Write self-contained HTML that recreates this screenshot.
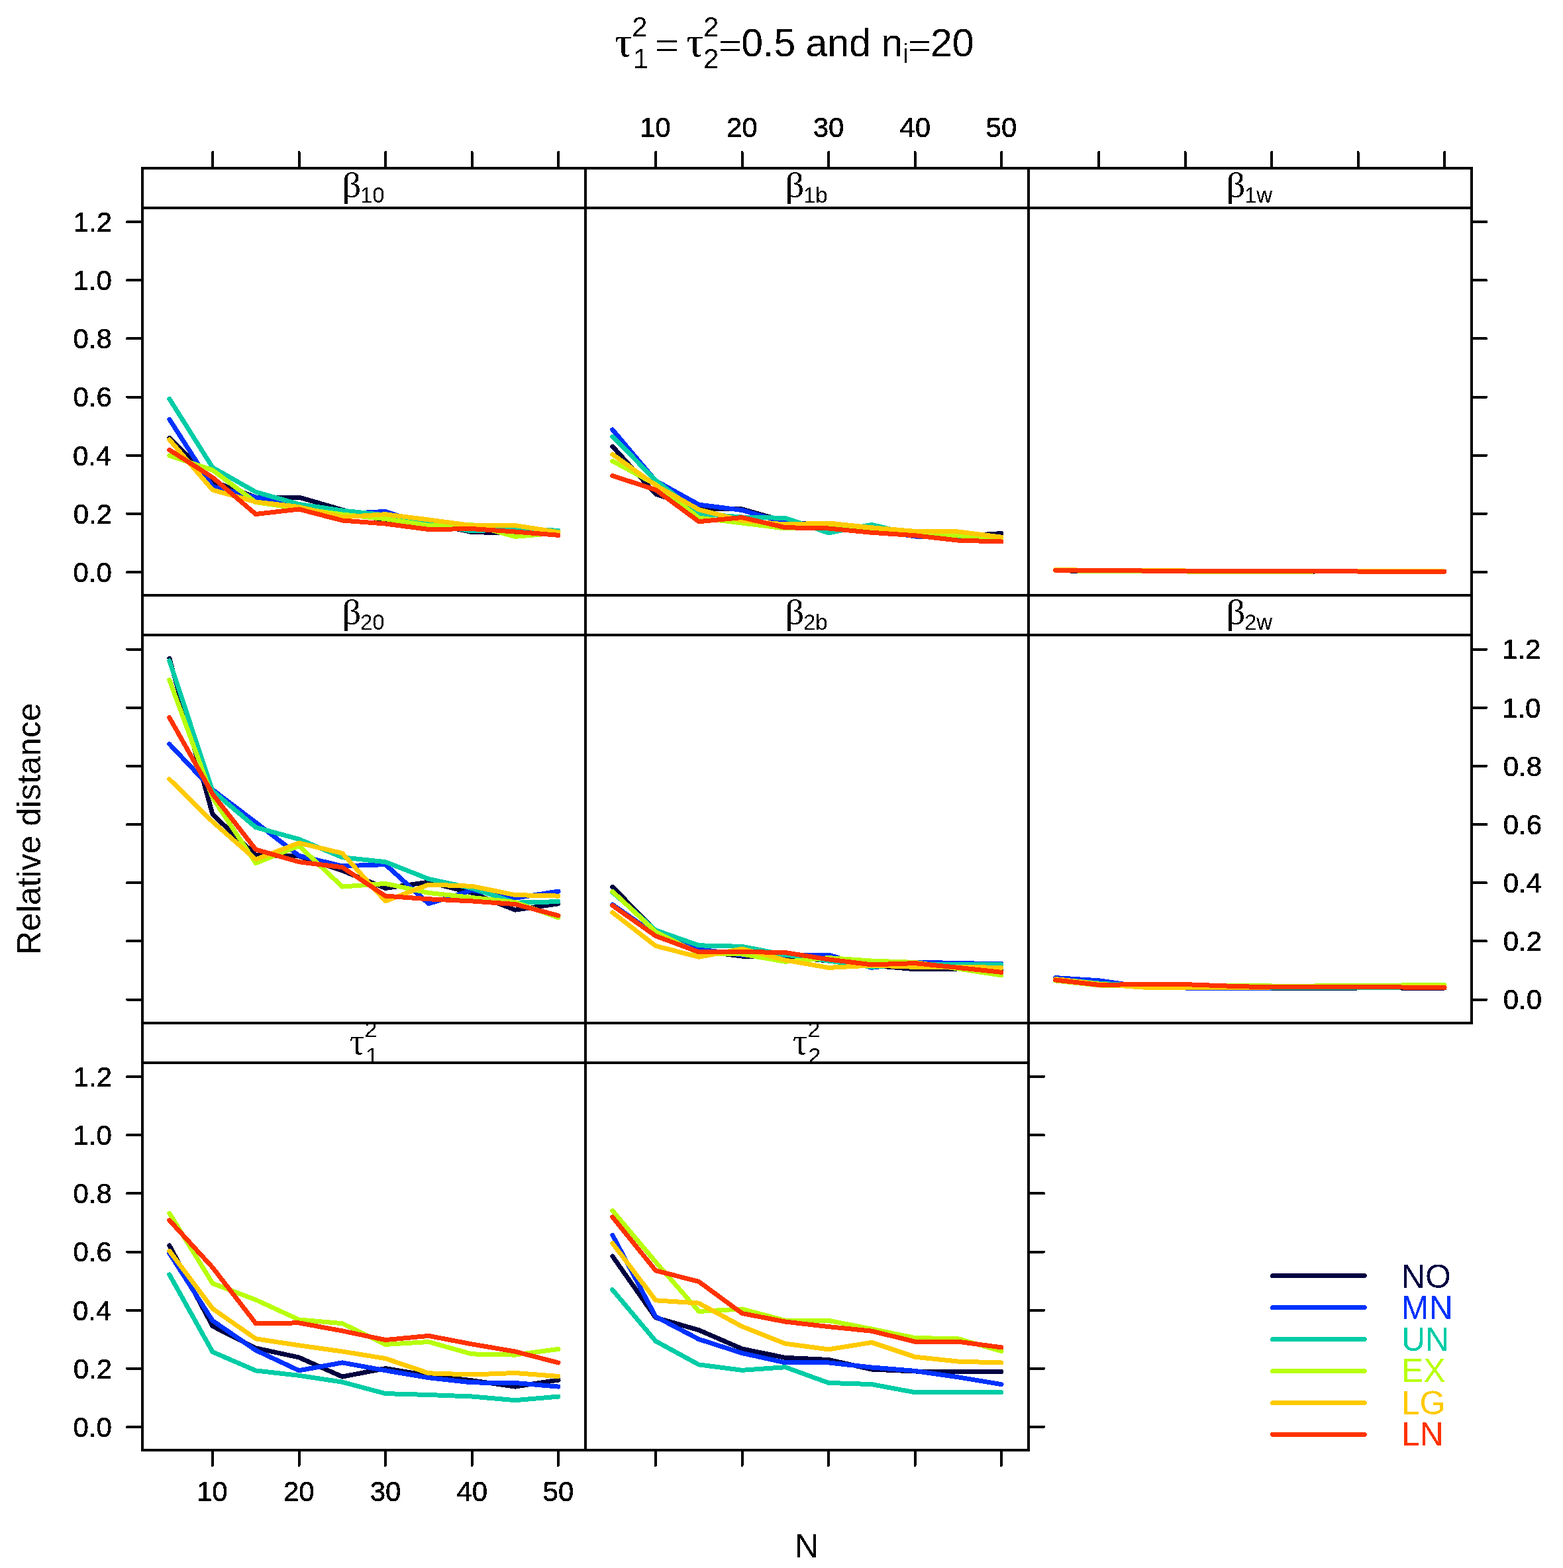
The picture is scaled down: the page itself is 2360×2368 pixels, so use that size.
<!DOCTYPE html><html><head><meta charset="utf-8"><title>Relative distance plot</title><style>html,body{margin:0;padding:0;background:#fff;overflow:hidden;}svg{display:block;}</style></head><body>
<svg width="2360" height="2368" viewBox="0 0 2360 2368">
<rect x="0" y="0" width="2360" height="2368" fill="#ffffff"/>
<defs>
<filter id="bin" x="0" y="0" width="2360" height="2368" filterUnits="userSpaceOnUse"><feComponentTransfer><feFuncA type="discrete" tableValues="0 1"/></feComponentTransfer></filter>
<clipPath id="cp_b10"><rect x="215" y="314" width="669" height="585"/></clipPath>
<clipPath id="cs_b10"><rect x="215" y="254" width="669" height="62"/></clipPath>
<clipPath id="cp_b1b"><rect x="884" y="314" width="669" height="585"/></clipPath>
<clipPath id="cs_b1b"><rect x="884" y="254" width="669" height="62"/></clipPath>
<clipPath id="cp_b1w"><rect x="1553" y="314" width="668.5" height="585"/></clipPath>
<clipPath id="cs_b1w"><rect x="1553" y="254" width="668.5" height="62"/></clipPath>
<clipPath id="cp_b20"><rect x="215" y="959" width="669" height="586"/></clipPath>
<clipPath id="cs_b20"><rect x="215" y="899" width="669" height="62"/></clipPath>
<clipPath id="cp_b2b"><rect x="884" y="959" width="669" height="586"/></clipPath>
<clipPath id="cs_b2b"><rect x="884" y="899" width="669" height="62"/></clipPath>
<clipPath id="cp_b2w"><rect x="1553" y="959" width="668.5" height="586"/></clipPath>
<clipPath id="cs_b2w"><rect x="1553" y="899" width="668.5" height="62"/></clipPath>
<clipPath id="cp_t1"><rect x="215" y="1605" width="669" height="585"/></clipPath>
<clipPath id="cs_t1"><rect x="215" y="1545" width="669" height="62"/></clipPath>
<clipPath id="cp_t2"><rect x="884" y="1605" width="669" height="585"/></clipPath>
<clipPath id="cs_t2"><rect x="884" y="1545" width="669" height="62"/></clipPath>
</defs>
<g filter="url(#bin)">
<g clip-path="url(#cp_b10)" fill="none" stroke-width="7" stroke-linecap="round" stroke-linejoin="round" shape-rendering="crispEdges">
<polyline points="255.8,661.5 321.0,727.0 386.2,751.0 451.5,751.0 516.8,770.0 582.0,786.0 647.2,790.0 712.5,803.6 777.8,805.0 843.0,805.0" stroke="#020040"/>
<polyline points="255.8,633.2 321.0,735.0 386.2,751.0 451.5,764.0 516.8,776.0 582.0,772.4 647.2,795.0 712.5,800.0 777.8,800.0 843.0,803.0" stroke="#0033FF"/>
<polyline points="255.8,602.4 321.0,706.0 386.2,743.0 451.5,761.5 516.8,771.0 582.0,778.0 647.2,791.0 712.5,802.0 777.8,798.6 843.0,801.3" stroke="#00CCA6"/>
<polyline points="255.8,688.0 321.0,710.0 386.2,758.5 451.5,768.0 516.8,777.0 582.0,783.6 647.2,793.6 712.5,792.4 777.8,810.4 843.0,804.8" stroke="#B8FF10"/>
<polyline points="255.8,664.0 321.0,740.0 386.2,758.0 451.5,765.5 516.8,781.0 582.0,776.7 647.2,785.0 712.5,793.6 777.8,793.6 843.0,803.6" stroke="#FFCA00"/>
<polyline points="255.8,679.4 321.0,721.0 386.2,776.5 451.5,769.0 516.8,786.0 582.0,791.0 647.2,799.5 712.5,798.6 777.8,803.0 843.0,808.3" stroke="#FF3300"/>
</g>
<g clip-path="url(#cp_b1b)" fill="none" stroke-width="7" stroke-linecap="round" stroke-linejoin="round" shape-rendering="crispEdges">
<polyline points="924.8,674.2 990.0,746.0 1055.2,768.4 1120.5,769.0 1185.8,787.4 1251.0,795.0 1316.2,800.0 1381.5,808.0 1446.8,810.0 1512.0,805.5" stroke="#020040"/>
<polyline points="924.8,648.9 990.0,726.0 1055.2,762.1 1120.5,770.5 1185.8,789.5 1251.0,793.0 1316.2,800.0 1381.5,810.0 1446.8,811.8 1512.0,812.0" stroke="#0033FF"/>
<polyline points="924.8,659.3 990.0,725.4 1055.2,775.9 1120.5,781.0 1185.8,782.4 1251.0,804.8 1316.2,792.4 1381.5,808.0 1446.8,810.0 1512.0,812.4" stroke="#00CCA6"/>
<polyline points="924.8,696.3 990.0,731.6 1055.2,782.1 1120.5,790.0 1185.8,798.0 1251.0,793.6 1316.2,800.0 1381.5,806.0 1446.8,808.7 1512.0,813.6" stroke="#B8FF10"/>
<polyline points="924.8,686.1 990.0,732.8 1055.2,769.6 1120.5,786.0 1185.8,792.0 1251.0,790.0 1316.2,796.8 1381.5,802.4 1446.8,803.0 1512.0,811.1" stroke="#FFCA00"/>
<polyline points="924.8,718.5 990.0,739.7 1055.2,787.7 1120.5,781.5 1185.8,796.7 1251.0,798.0 1316.2,804.3 1381.5,808.7 1446.8,816.1 1512.0,818.0" stroke="#FF3300"/>
</g>
<g clip-path="url(#cp_b1w)" fill="none" stroke-width="7" stroke-linecap="round" stroke-linejoin="round" shape-rendering="crispEdges">
<polyline points="1593.8,861.5 1659.0,863.0 1724.2,862.5 1789.5,862.5 1854.8,863.0 1920.0,863.0 1985.2,863.0 2050.5,862.5 2115.8,862.5 2181.0,863.0" stroke="#020040"/>
<polyline points="1593.8,861.5 1659.0,862.0 1724.2,862.0 1789.5,862.5 1854.8,862.5 1920.0,862.5 1985.2,862.5 2050.5,862.5 2115.8,862.5 2181.0,863.0" stroke="#0033FF"/>
<polyline points="1593.8,861.5 1659.0,861.5 1724.2,861.0 1789.5,862.0 1854.8,862.5 1920.0,862.5 1985.2,862.5 2050.5,862.5 2115.8,862.5 2181.0,863.0" stroke="#00CCA6"/>
<polyline points="1593.8,861.5 1659.0,862.5 1724.2,862.5 1789.5,863.0 1854.8,863.5 1920.0,863.5 1985.2,863.0 2050.5,862.5 2115.8,862.5 2181.0,863.0" stroke="#B8FF10"/>
<polyline points="1593.8,860.5 1659.0,861.5 1724.2,861.0 1789.5,862.0 1854.8,862.0 1920.0,862.0 1985.2,862.0 2050.5,862.0 2115.8,862.5 2181.0,863.0" stroke="#FFCA00"/>
<polyline points="1593.8,861.2 1659.0,861.8 1724.2,862.0 1789.5,862.2 1854.8,862.4 1920.0,862.6 1985.2,862.8 2050.5,863.0 2115.8,863.0 2181.0,863.2" stroke="#FF3300"/>
</g>
<g clip-path="url(#cp_b20)" fill="none" stroke-width="7" stroke-linecap="round" stroke-linejoin="round" shape-rendering="crispEdges">
<polyline points="255.8,994.2 321.0,1229.9 386.2,1291.4 451.5,1293.0 516.8,1314.8 582.0,1341.4 647.2,1332.1 712.5,1348.4 777.8,1374.2 843.0,1364.8" stroke="#020040"/>
<polyline points="255.8,1123.7 321.0,1192.7 386.2,1242.0 451.5,1292.3 516.8,1307.9 582.0,1305.6 647.2,1364.8 712.5,1344.5 777.8,1356.2 843.0,1346.1" stroke="#0033FF"/>
<polyline points="255.8,997.9 321.0,1194.5 386.2,1249.5 451.5,1267.4 516.8,1294.8 582.0,1301.7 647.2,1327.4 712.5,1341.4 777.8,1363.2 843.0,1361.7" stroke="#00CCA6"/>
<polyline points="255.8,1026.8 321.0,1204.8 386.2,1303.5 451.5,1277.4 516.8,1339.1 582.0,1334.4 647.2,1348.4 712.5,1355.5 777.8,1362.5 843.0,1385.8" stroke="#B8FF10"/>
<polyline points="255.8,1176.8 321.0,1241.0 386.2,1298.0 451.5,1273.0 516.8,1288.6 582.0,1360.9 647.2,1336.0 712.5,1338.3 777.8,1351.6 843.0,1353.1" stroke="#FFCA00"/>
<polyline points="255.8,1083.7 321.0,1199.2 386.2,1283.0 451.5,1301.7 516.8,1309.8 582.0,1353.1 647.2,1357.8 712.5,1360.9 777.8,1365.6 843.0,1382.7" stroke="#FF3300"/>
</g>
<g clip-path="url(#cp_b2b)" fill="none" stroke-width="7" stroke-linecap="round" stroke-linejoin="round" shape-rendering="crispEdges">
<polyline points="924.8,1339.3 990.0,1406.0 1055.2,1436.0 1120.5,1444.0 1185.8,1444.3 1251.0,1451.1 1316.2,1458.0 1381.5,1463.7 1446.8,1463.0 1512.0,1464.9" stroke="#020040"/>
<polyline points="924.8,1366.1 990.0,1411.6 1055.2,1433.5 1120.5,1442.2 1185.8,1442.0 1251.0,1442.0 1316.2,1461.4 1381.5,1453.0 1446.8,1454.6 1512.0,1455.7" stroke="#0033FF"/>
<polyline points="924.8,1347.4 990.0,1404.8 1055.2,1427.8 1120.5,1429.4 1185.8,1442.0 1251.0,1451.0 1316.2,1460.3 1381.5,1456.0 1446.8,1456.9 1512.0,1456.9" stroke="#00CCA6"/>
<polyline points="924.8,1346.2 990.0,1407.3 1055.2,1439.7 1120.5,1441.0 1185.8,1452.3 1251.0,1446.6 1316.2,1451.1 1381.5,1453.4 1446.8,1463.0 1512.0,1472.9" stroke="#B8FF10"/>
<polyline points="924.8,1378.0 990.0,1428.5 1055.2,1445.3 1120.5,1432.9 1185.8,1450.0 1251.0,1461.4 1316.2,1458.0 1381.5,1460.3 1446.8,1460.3 1512.0,1461.4" stroke="#FFCA00"/>
<polyline points="924.8,1367.4 990.0,1413.5 1055.2,1437.8 1120.5,1437.4 1185.8,1438.6 1251.0,1448.9 1316.2,1456.9 1381.5,1454.6 1446.8,1461.4 1512.0,1468.3" stroke="#FF3300"/>
</g>
<g clip-path="url(#cp_b2w)" fill="none" stroke-width="7" stroke-linecap="round" stroke-linejoin="round" shape-rendering="crispEdges">
<polyline points="1593.8,1479.0 1659.0,1484.0 1724.2,1490.0 1789.5,1491.0 1854.8,1492.0 1920.0,1492.5 1985.2,1492.5 2050.5,1492.0 2115.8,1492.0 2181.0,1492.0" stroke="#020040"/>
<polyline points="1593.8,1476.6 1659.0,1480.8 1724.2,1490.0 1789.5,1492.0 1854.8,1492.0 1920.0,1492.0 1985.2,1491.0 2050.5,1489.0 2115.8,1488.0 2181.0,1490.0" stroke="#0033FF"/>
<polyline points="1593.8,1479.0 1659.0,1485.0 1724.2,1489.0 1789.5,1490.0 1854.8,1491.0 1920.0,1492.0 1985.2,1492.0 2050.5,1491.5 2115.8,1491.0 2181.0,1491.0" stroke="#00CCA6"/>
<polyline points="1593.8,1481.0 1659.0,1488.0 1724.2,1489.0 1789.5,1489.0 1854.8,1488.0 1920.0,1489.0 1985.2,1489.0 2050.5,1488.0 2115.8,1488.0 2181.0,1487.5" stroke="#B8FF10"/>
<polyline points="1593.8,1478.5 1659.0,1486.0 1724.2,1491.0 1789.5,1491.6 1854.8,1491.6 1920.0,1491.0 1985.2,1491.0 2050.5,1490.5 2115.8,1490.5 2181.0,1490.5" stroke="#FFCA00"/>
<polyline points="1593.8,1480.0 1659.0,1487.4 1724.2,1486.6 1789.5,1486.6 1854.8,1489.1 1920.0,1491.0 1985.2,1490.5 2050.5,1490.5 2115.8,1491.0 2181.0,1491.5" stroke="#FF3300"/>
</g>
<g clip-path="url(#cp_t1)" fill="none" stroke-width="7" stroke-linecap="round" stroke-linejoin="round" shape-rendering="crispEdges">
<polyline points="255.8,1881.0 321.0,2002.8 386.2,2035.9 451.5,2050.0 516.8,2079.1 582.0,2066.6 647.2,2077.5 712.5,2084.8 777.8,2094.1 843.0,2084.1" stroke="#020040"/>
<polyline points="255.8,1892.6 321.0,1994.5 386.2,2039.2 451.5,2069.8 516.8,2057.9 582.0,2069.7 647.2,2080.7 712.5,2087.9 777.8,2088.5 843.0,2094.1" stroke="#0033FF"/>
<polyline points="255.8,1924.9 321.0,2041.7 386.2,2069.9 451.5,2077.3 516.8,2087.2 582.0,2104.6 647.2,2106.5 712.5,2109.0 777.8,2114.7 843.0,2109.1" stroke="#00CCA6"/>
<polyline points="255.8,1832.2 321.0,1938.2 386.2,1963.0 451.5,1993.0 516.8,1998.7 582.0,2030.4 647.2,2026.5 712.5,2044.9 777.8,2046.1 843.0,2037.4" stroke="#B8FF10"/>
<polyline points="255.8,1889.3 321.0,1976.3 386.2,2021.8 451.5,2031.8 516.8,2041.0 582.0,2051.6 647.2,2073.8 712.5,2076.0 777.8,2073.5 843.0,2078.5" stroke="#FFCA00"/>
<polyline points="255.8,1842.9 321.0,1914.2 386.2,1998.6 451.5,1997.9 516.8,2009.9 582.0,2023.6 647.2,2017.4 712.5,2029.9 777.8,2041.1 843.0,2058.0" stroke="#FF3300"/>
</g>
<g clip-path="url(#cp_t2)" fill="none" stroke-width="7" stroke-linecap="round" stroke-linejoin="round" shape-rendering="crispEdges">
<polyline points="924.8,1897.1 990.0,1989.9 1055.2,2008.7 1120.5,2037.0 1185.8,2050.4 1251.0,2053.5 1316.2,2068.0 1381.5,2071.0 1446.8,2071.7 1512.0,2071.7" stroke="#020040"/>
<polyline points="924.8,1865.2 990.0,1988.4 1055.2,2022.5 1120.5,2043.5 1185.8,2057.9 1251.0,2057.9 1316.2,2065.0 1381.5,2070.4 1446.8,2079.8 1512.0,2090.7" stroke="#0033FF"/>
<polyline points="924.8,1947.8 990.0,2025.4 1055.2,2060.9 1120.5,2069.3 1185.8,2064.7 1251.0,2088.4 1316.2,2090.6 1381.5,2102.8 1446.8,2102.8 1512.0,2102.8" stroke="#00CCA6"/>
<polyline points="924.8,1828.3 990.0,1905.8 1055.2,1980.4 1120.5,1977.0 1185.8,1994.3 1251.0,1994.3 1316.2,2007.0 1381.5,2020.5 1446.8,2021.8 1512.0,2040.5" stroke="#B8FF10"/>
<polyline points="924.8,1877.5 990.0,1963.8 1055.2,1968.1 1120.5,2003.3 1185.8,2029.2 1251.0,2037.9 1316.2,2027.4 1381.5,2049.2 1446.8,2056.1 1512.0,2058.0" stroke="#FFCA00"/>
<polyline points="924.8,1838.0 990.0,1918.8 1055.2,1935.5 1120.5,1983.5 1185.8,1996.1 1251.0,2003.6 1316.2,2010.2 1381.5,2026.2 1446.8,2026.2 1512.0,2034.9" stroke="#FF3300"/>
</g>
<g fill="none" stroke="#000" stroke-width="4" shape-rendering="crispEdges">
<rect x="215" y="254" width="669" height="645"/>
<line x1="215" y1="314" x2="884" y2="314"/>
<rect x="884" y="254" width="669" height="645"/>
<line x1="884" y1="314" x2="1553" y2="314"/>
<rect x="1553" y="254" width="668.5" height="645"/>
<line x1="1553" y1="314" x2="2221.5" y2="314"/>
<rect x="215" y="899" width="669" height="646"/>
<line x1="215" y1="959" x2="884" y2="959"/>
<rect x="884" y="899" width="669" height="646"/>
<line x1="884" y1="959" x2="1553" y2="959"/>
<rect x="1553" y="899" width="668.5" height="646"/>
<line x1="1553" y1="959" x2="2221.5" y2="959"/>
<rect x="215" y="1545" width="669" height="645"/>
<line x1="215" y1="1605" x2="884" y2="1605"/>
<rect x="884" y="1545" width="669" height="645"/>
<line x1="884" y1="1605" x2="1553" y2="1605"/>
</g>
<path d="M192.0,864.0H215.0M192.0,775.8H215.0M192.0,687.7H215.0M192.0,599.5H215.0M192.0,511.3H215.0M192.0,423.2H215.0M192.0,335.0H215.0M192.0,1509.5H215.0M192.0,1421.3H215.0M192.0,1333.2H215.0M192.0,1245.0H215.0M192.0,1156.8H215.0M192.0,1068.7H215.0M192.0,980.5H215.0M192.0,2155.0H215.0M192.0,2066.8H215.0M192.0,1978.7H215.0M192.0,1890.5H215.0M192.0,1802.3H215.0M192.0,1714.2H215.0M192.0,1626.0H215.0M2223.0,864.0H2244.5M2223.0,775.8H2244.5M2223.0,687.7H2244.5M2223.0,599.5H2244.5M2223.0,511.3H2244.5M2223.0,423.2H2244.5M2223.0,335.0H2244.5M2223.0,1509.5H2244.5M2223.0,1421.3H2244.5M2223.0,1333.2H2244.5M2223.0,1245.0H2244.5M2223.0,1156.8H2244.5M2223.0,1068.7H2244.5M2223.0,980.5H2244.5M1554.5,2155.0H1576.0M1554.5,2066.8H1576.0M1554.5,1978.7H1576.0M1554.5,1890.5H1576.0M1554.5,1802.3H1576.0M1554.5,1714.2H1576.0M1554.5,1626.0H1576.0M321.0,254.0V230.0M451.5,254.0V230.0M582.0,254.0V230.0M712.5,254.0V230.0M843.0,254.0V230.0M990.0,254.0V230.0M1120.5,254.0V230.0M1251.0,254.0V230.0M1381.5,254.0V230.0M1512.0,254.0V230.0M1659.0,254.0V230.0M1789.5,254.0V230.0M1920.0,254.0V230.0M2050.5,254.0V230.0M2181.0,254.0V230.0M321.0,2190.0V2213.0M451.5,2190.0V2213.0M582.0,2190.0V2213.0M712.5,2190.0V2213.0M843.0,2190.0V2213.0M990.0,2190.0V2213.0M1120.5,2190.0V2213.0M1251.0,2190.0V2213.0M1381.5,2190.0V2213.0M1512.0,2190.0V2213.0" fill="none" stroke="#000" stroke-width="4" stroke-linecap="round" shape-rendering="crispEdges"/>
<g font-family="'Liberation Sans', Arial, Helvetica, sans-serif" font-size="42" fill="#000" stroke="#000" stroke-width="0.6">
<text x="110.4" y="878.8">0.0</text>
<text x="110.8" y="790.6">0.2</text>
<text x="109.9" y="702.5">0.4</text>
<text x="110.6" y="614.3">0.6</text>
<text x="110.5" y="526.1">0.8</text>
<text x="110.4" y="438.0">1.0</text>
<text x="110.8" y="349.8">1.2</text>
<text x="110.4" y="2169.8">0.0</text>
<text x="110.8" y="2081.6">0.2</text>
<text x="109.9" y="1993.5">0.4</text>
<text x="110.6" y="1905.3">0.6</text>
<text x="110.5" y="1817.1">0.8</text>
<text x="110.4" y="1729.0">1.0</text>
<text x="110.8" y="1640.8">1.2</text>
<text x="2269.7" y="1524.3">0.0</text>
<text x="2269.7" y="1436.1">0.2</text>
<text x="2269.7" y="1348.0">0.4</text>
<text x="2269.7" y="1259.8">0.6</text>
<text x="2269.7" y="1171.6">0.8</text>
<text x="2268.1" y="1083.5">1.0</text>
<text x="2268.1" y="995.3">1.2</text>
<text x="965.9" y="206.8">10</text>
<text x="296.9" y="2266.8">10</text>
<text x="1096.9" y="206.8">20</text>
<text x="427.9" y="2266.8">20</text>
<text x="1227.7" y="206.8">30</text>
<text x="558.7" y="2266.8">30</text>
<text x="1358.5" y="206.8">40</text>
<text x="689.5" y="2266.8">40</text>
<text x="1488.6" y="206.8">50</text>
<text x="819.6" y="2266.8">50</text>
</g>
<g clip-path="url(#cs_b10)" fill="#000"><text transform="translate(516.3,297.0) scale(1.1,1)" font-family="'Liberation Serif', 'DejaVu Serif', serif" font-size="52">β</text><text x="544.0" y="306.3" font-family="'Liberation Sans', Arial, Helvetica, sans-serif" font-size="33">10</text></g>
<g clip-path="url(#cs_b1b)" fill="#000"><text transform="translate(1185.3,297.0) scale(1.1,1)" font-family="'Liberation Serif', 'DejaVu Serif', serif" font-size="52">β</text><text x="1213.0" y="306.3" font-family="'Liberation Sans', Arial, Helvetica, sans-serif" font-size="33">1b</text></g>
<g clip-path="url(#cs_b1w)" fill="#000"><text transform="translate(1851.3,297.0) scale(1.1,1)" font-family="'Liberation Serif', 'DejaVu Serif', serif" font-size="52">β</text><text x="1879.0" y="306.3" font-family="'Liberation Sans', Arial, Helvetica, sans-serif" font-size="33">1w</text></g>
<g clip-path="url(#cs_b20)" fill="#000"><text transform="translate(516.3,942.0) scale(1.1,1)" font-family="'Liberation Serif', 'DejaVu Serif', serif" font-size="52">β</text><text x="544.0" y="951.3" font-family="'Liberation Sans', Arial, Helvetica, sans-serif" font-size="33">20</text></g>
<g clip-path="url(#cs_b2b)" fill="#000"><text transform="translate(1185.3,942.0) scale(1.1,1)" font-family="'Liberation Serif', 'DejaVu Serif', serif" font-size="52">β</text><text x="1213.0" y="951.3" font-family="'Liberation Sans', Arial, Helvetica, sans-serif" font-size="33">2b</text></g>
<g clip-path="url(#cs_b2w)" fill="#000"><text transform="translate(1851.3,942.0) scale(1.1,1)" font-family="'Liberation Serif', 'DejaVu Serif', serif" font-size="52">β</text><text x="1879.0" y="951.3" font-family="'Liberation Sans', Arial, Helvetica, sans-serif" font-size="33">2w</text></g>
<g clip-path="url(#cs_t1)" fill="#000"><text x="528.1" y="1591.5" font-family="'Liberation Serif', 'DejaVu Serif', serif" font-size="56">τ</text><text x="550.5" y="1566.0" font-family="'Liberation Sans', Arial, Helvetica, sans-serif" font-size="34">2</text><text x="551.9" y="1606.3" font-family="'Liberation Sans', Arial, Helvetica, sans-serif" font-size="34">1</text></g>
<g clip-path="url(#cs_t2)" fill="#000"><text x="1197.1" y="1591.5" font-family="'Liberation Serif', 'DejaVu Serif', serif" font-size="56">τ</text><text x="1219.5" y="1566.0" font-family="'Liberation Sans', Arial, Helvetica, sans-serif" font-size="34">2</text><text x="1220.3" y="1606.3" font-family="'Liberation Sans', Arial, Helvetica, sans-serif" font-size="34">2</text></g>
<g fill="#000"><text x="928.5" y="84.5" font-family="'Liberation Serif', 'DejaVu Serif', serif" font-size="64">τ</text><text x="954.3" y="54.9" font-family="'Liberation Sans', Arial, Helvetica, sans-serif" font-size="42">2</text><text x="956.1" y="102.9" font-family="'Liberation Sans', Arial, Helvetica, sans-serif" font-size="42">1</text><text x="988.8" y="89.5" font-family="'Liberation Serif', 'DejaVu Serif', serif" font-size="64">=</text><text x="1036.6" y="84.5" font-family="'Liberation Serif', 'DejaVu Serif', serif" font-size="64">τ</text><text x="1061.9" y="54.9" font-family="'Liberation Sans', Arial, Helvetica, sans-serif" font-size="42">2</text><text x="1061.9" y="103.2" font-family="'Liberation Sans', Arial, Helvetica, sans-serif" font-size="42">2</text><text transform="translate(1085.1,84.9) scale(1,0.78)" font-family="'Liberation Sans', Arial, Helvetica, sans-serif" font-size="60">=</text><text x="1119.2" y="84.7" font-family="'Liberation Sans', Arial, Helvetica, sans-serif" font-size="59">0.5</text><text x="1216.4" y="84.7" font-family="'Liberation Sans', Arial, Helvetica, sans-serif" font-size="59">and</text><text x="1330.6" y="84.5" font-family="'Liberation Sans', Arial, Helvetica, sans-serif" font-size="59">n</text><text x="1363.1" y="94.9" font-family="'Liberation Sans', Arial, Helvetica, sans-serif" font-size="41">i</text><text transform="translate(1370.9,84.9) scale(1,0.78)" font-family="'Liberation Sans', Arial, Helvetica, sans-serif" font-size="60">=</text><text x="1405.0" y="84.7" font-family="'Liberation Sans', Arial, Helvetica, sans-serif" font-size="59">20</text></g>
<text x="1218" y="2351.9" font-family="'Liberation Sans', Arial, Helvetica, sans-serif" font-size="50" text-anchor="middle">N</text>
<text transform="translate(61,1442.2) rotate(-90)" font-family="'Liberation Sans', Arial, Helvetica, sans-serif" font-size="50">Relative distance</text>
<line x1="1921.5" y1="1926.45" x2="2060.2" y2="1926.45" stroke="#020040" stroke-width="7" stroke-linecap="round"/>
<text x="2115.8" y="1944.9" font-family="'Liberation Sans', Arial, Helvetica, sans-serif" font-size="50" fill="#020040">NO</text>
<line x1="1921.5" y1="1974.4" x2="2060.2" y2="1974.4" stroke="#0033FF" stroke-width="7" stroke-linecap="round"/>
<text x="2115.8" y="1991.9" font-family="'Liberation Sans', Arial, Helvetica, sans-serif" font-size="50" fill="#0033FF">MN</text>
<line x1="1921.5" y1="2022.5" x2="2060.2" y2="2022.5" stroke="#00CCA6" stroke-width="7" stroke-linecap="round"/>
<text x="2116.0" y="2039.6" font-family="'Liberation Sans', Arial, Helvetica, sans-serif" font-size="50" fill="#00CCA6">UN</text>
<line x1="1921.5" y1="2070.5" x2="2060.2" y2="2070.5" stroke="#B8FF10" stroke-width="7" stroke-linecap="round"/>
<text x="2115.8" y="2087.4" font-family="'Liberation Sans', Arial, Helvetica, sans-serif" font-size="50" fill="#B8FF10">EX</text>
<line x1="1921.5" y1="2118.4" x2="2060.2" y2="2118.4" stroke="#FFCA00" stroke-width="7" stroke-linecap="round"/>
<text x="2115.8" y="2135.5" font-family="'Liberation Sans', Arial, Helvetica, sans-serif" font-size="50" fill="#FFCA00">LG</text>
<line x1="1921.5" y1="2166.3" x2="2060.2" y2="2166.3" stroke="#FF3300" stroke-width="7" stroke-linecap="round"/>
<text x="2115.8" y="2183.4" font-family="'Liberation Sans', Arial, Helvetica, sans-serif" font-size="50" fill="#FF3300">LN</text>
</g>
</svg></body></html>
